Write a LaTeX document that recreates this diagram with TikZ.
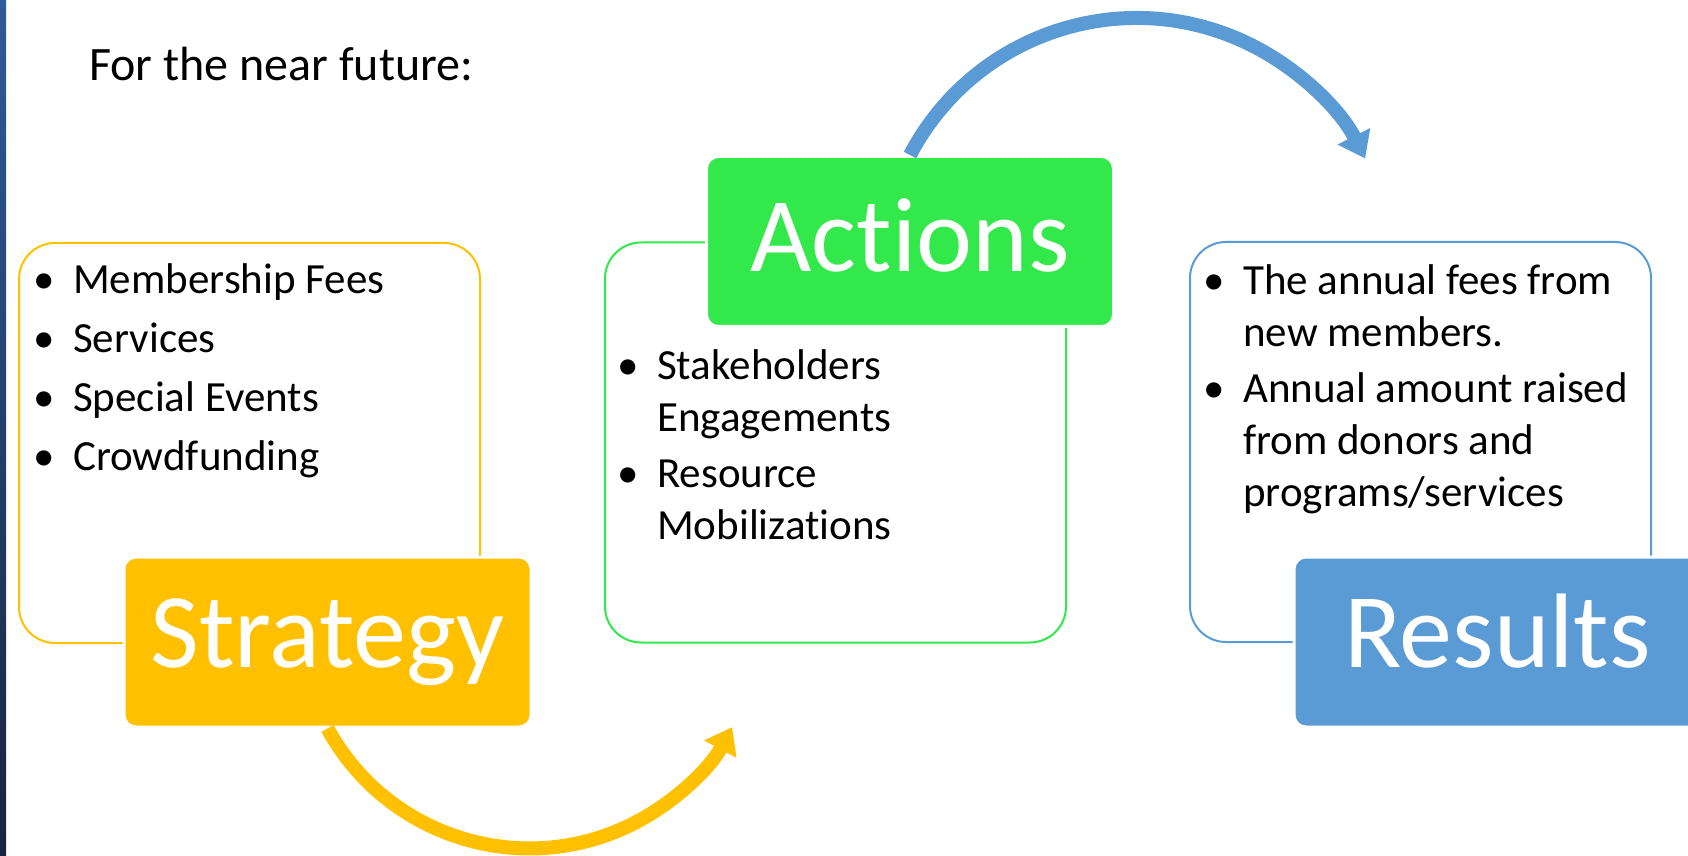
\documentclass[tikz,border=0pt]{standalone}
\usepackage{fontspec}
\setmainfont{Carlito}[Ligatures={NoCommon}]
\usepackage{xcolor}
\usetikzlibrary{arrows.meta}
\definecolor{stratyellow}{HTML}{FFC000}
\definecolor{actgreen}{HTML}{32E84B}
\definecolor{resblue}{HTML}{5B9BD5}
\definecolor{striptop}{RGB}{46,91,155}
\definecolor{stripbot}{RGB}{26,36,62}
\tikzstyle{frame}=[draw, line width=2pt, rounded corners=36pt, minimum width=461pt, minimum height=400pt]
\tikzstyle{labelbox}=[draw=white, line width=3pt, rounded corners=12pt, minimum width=407pt, minimum height=170pt, text=white, text height=68pt, text depth=18pt, font=\fontsize{106}{120}\selectfont]
\tikzstyle{bulletlist}=[anchor=base west, inner sep=0pt, font=\fontsize{43}{52}\selectfont]
\tikzstyle{flowarrow}=[line width=14pt, -{Triangle[length=25pt, width=35pt]}]
\newcommand{\bulletrows}[1]{\begin{tabular}[t]{@{}p{40pt}@{}l@{}}#1\end{tabular}}

\begin{document}
\begin{tikzpicture}[x=1pt, y=1pt]
	\useasboundingbox (0,0) rectangle (1688,855);
	\shade[top color=striptop, bottom color=stripbot] (0,0) rectangle (6,855);
	\node[anchor=base west, inner sep=0pt, font=\fontsize{48}{58}\selectfont] (title) at (89,774) {For the near future:};
	\node[frame, draw=stratyellow] (stratframe) at (249.5,412) {};
	\node[frame, draw=actgreen] (actframe) at (835.5,412.5) {};
	\node[frame, draw=resblue] (resframe) at (1420.5,413) {};
	\node[labelbox, fill=stratyellow] (strat) at (327.5,213) {Strategy};
	\node[labelbox, fill=actgreen, text depth=8pt] (act) at (910,613.5) {Actions};
	\node[labelbox, fill=resblue] (res) at (1497.5,213) {Results};
	\node[bulletlist, font=\fontsize{43}{59}\selectfont] (stratlist) at (33,561) {\bulletrows{\textbullet & Membership Fees\\ \textbullet & Services\\ \textbullet & Special Events\\ \textbullet & Crowdfunding}};
	\node[bulletlist] (actlist) at (617,475) {\bulletrows{\textbullet & Stakeholders\\ & Engagements\\[4pt] \textbullet & Resource\\ & Mobilizations}};
	\node[bulletlist] (reslist) at (1203,560) {\bulletrows{\textbullet & The annual fees from\\ & new members.\\[4pt] \textbullet & Annual amount raised\\ & from donors and\\ & programs/services}};
	\draw[flowarrow, stratyellow] (strat.south) arc[start angle=208.6, end angle=331.8, radius=230];
	\draw[flowarrow, resblue] (act.north) arc[start angle=152.3, end angle=26.8, radius=256];
\end{tikzpicture}
\end{document}
